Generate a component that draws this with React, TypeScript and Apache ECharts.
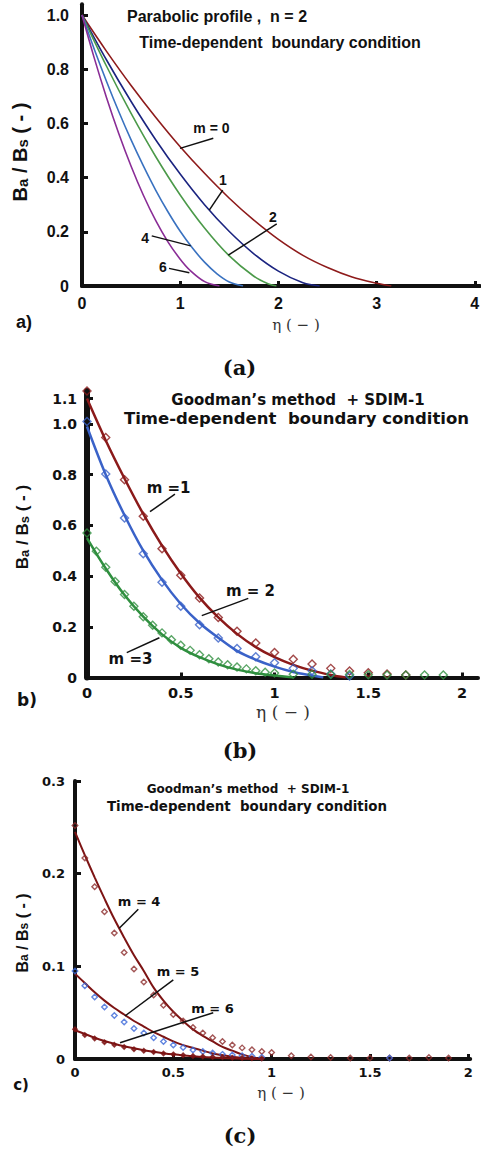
import React, { useEffect, useRef } from "react";
import * as echarts from "echarts";

// ---------- Panel (a): parabolic profile, n = 2 ----------
const A_M0_ETA = [0, 0.25, 0.5, 0.75, 1, 1.25, 1.5, 1.75, 2, 2.25, 2.5, 2.75, 3, 3.15];
const A_M0 = [1, 0.866, 0.74, 0.623, 0.514, 0.415, 0.324, 0.243, 0.172, 0.113, 0.068, 0.033, 0.01, 0];
const A_M1_ETA = [0, 0.25, 0.5, 0.75, 1, 1.25, 1.5, 1.75, 2, 2.25, 2.42];
const A_M1 = [1, 0.834, 0.681, 0.54, 0.413, 0.299, 0.201, 0.119, 0.055, 0.012, 0];
const A_M2_ETA = [0, 0.25, 0.5, 0.75, 1, 1.25, 1.5, 1.75, 1.9, 1.98];
const A_M2 = [1, 0.811, 0.637, 0.478, 0.336, 0.213, 0.111, 0.036, 0.007, 0];
const A_M4_ETA = [0, 0.125, 0.25, 0.375, 0.5, 0.625, 0.75, 0.875, 1, 1.125, 1.25, 1.375, 1.5, 1.64];
const A_M4 = [1, 0.874, 0.755, 0.643, 0.539, 0.443, 0.354, 0.274, 0.202, 0.14, 0.087, 0.045, 0.015, 0];
const A_M6_ETA = [0, 0.125, 0.25, 0.375, 0.5, 0.625, 0.75, 0.875, 1, 1.1, 1.25, 1.4];
const A_M6 = [1, 0.841, 0.695, 0.562, 0.442, 0.335, 0.242, 0.163, 0.099, 0.058, 0.016, 0];
const A_X_TICKS = [0, 1, 2, 3, 4];
const A_Y_TICKS = [0, 0.2, 0.4, 0.6, 0.8, 1.0];
const A_NOTE_TEXT = ["m = 0", "1", "2", "4", "6"];
const A_NOTE_AT = [[1.318, 0.583], [1.436, 0.391], [1.945, 0.255], [0.642, 0.177], [0.825, 0.07]];
const A_NOTE_FROM = [[0.998, 0.508], [1.296, 0.28], [1.49, 0.114], [0.71, 0.185], [0.886, 0.065]];
const A_NOTE_TO = [[1.337, 0.545], [1.433, 0.354], [1.983, 0.229], [1.107, 0.148], [1.093, 0.049]];

// ---------- Panel (b): Goodman's method + SDIM-1, m = 1..3 ----------
const B_M1_LINE_ETA = [0, 0.1, 0.2, 0.3, 0.4, 0.5, 0.6, 0.7, 0.8, 0.9, 1.0, 1.1, 1.2, 1.3, 1.38];
const B_M1_LINE = [1.1, 0.935, 0.785, 0.645, 0.52, 0.41, 0.315, 0.237, 0.172, 0.12, 0.08, 0.05, 0.027, 0.01, 0];
const B_M1_PTS_ETA = [0, 0.1, 0.2, 0.3, 0.4, 0.5, 0.6, 0.7, 0.8, 0.9, 1.0, 1.1, 1.2, 1.3, 1.4, 1.5, 1.6, 1.7];
const B_M1_PTS = [1.13, 0.947, 0.78, 0.636, 0.508, 0.403, 0.314, 0.237, 0.182, 0.136, 0.099, 0.072, 0.053, 0.036, 0.026, 0.019, 0.014, 0.01];
const B_M2_LINE_ETA = [0, 0.1, 0.2, 0.3, 0.4, 0.5, 0.6, 0.7, 0.8, 0.9, 1.0, 1.1, 1.2, 1.26];
const B_M2_LINE = [0.99, 0.8, 0.64, 0.5, 0.385, 0.29, 0.215, 0.157, 0.105, 0.07, 0.043, 0.022, 0.008, 0];
const B_M2_PTS_ETA = [0, 0.1, 0.2, 0.3, 0.4, 0.5, 0.6, 0.7, 0.8, 0.9, 1.0, 1.1, 1.2, 1.3, 1.4];
const B_M2_PTS = [1.01, 0.803, 0.629, 0.488, 0.376, 0.281, 0.208, 0.156, 0.114, 0.082, 0.058, 0.036, 0.027, 0.014, 0.006];
const B_M3_LINE_ETA = [0, 0.1, 0.2, 0.3, 0.4, 0.5, 0.6, 0.7, 0.8, 0.9, 1.0, 1.1];
const B_M3_LINE = [0.55, 0.43, 0.325, 0.24, 0.17, 0.117, 0.08, 0.052, 0.031, 0.017, 0.008, 0];
const B_M3_PTS_ETA = [0, 0.05, 0.1, 0.15, 0.2, 0.25, 0.3, 0.35, 0.4, 0.45, 0.5, 0.55, 0.6, 0.65, 0.7, 0.75, 0.8, 0.85, 0.9, 0.95, 1.0, 1.1, 1.2, 1.3, 1.4, 1.5, 1.6, 1.7, 1.8, 1.9];
const B_M3_PTS = [0.57, 0.498, 0.435, 0.379, 0.327, 0.281, 0.24, 0.206, 0.176, 0.149, 0.127, 0.107, 0.09, 0.074, 0.061, 0.05, 0.041, 0.034, 0.027, 0.021, 0.018, 0.013, 0.013, 0.012, 0.012, 0.011, 0.01, 0.01, 0.01, 0.01];
const B_X_TICKS = [0, 0.5, 1, 1.5, 2];
const B_Y_TICKS = [0, 0.2, 0.4, 0.6, 0.8, 1.0, 1.1];
const B_NOTE_TEXT = ["m =1", "m = 2", "m =3"];
const B_NOTE_AT = [[0.435, 0.746], [0.872, 0.341], [0.232, 0.073]];
const B_NOTE_FROM = [[0.336, 0.654], [0.612, 0.244], [0.212, 0.098]];
const B_NOTE_TO = [[0.469, 0.723], [0.86, 0.312], [0.386, 0.157]];

// ---------- Panel (c): Goodman's method + SDIM-1, m = 4..6 ----------
const C_LINE_ETA = [0, 0.05, 0.1, 0.15, 0.2, 0.25, 0.3, 0.35, 0.4, 0.45, 0.5, 0.55, 0.6, 0.65, 0.7, 0.75, 0.8, 0.85, 0.9, 0.95];
const C_M4_LINE = [0.245, 0.22, 0.196, 0.173, 0.151, 0.131, 0.112, 0.095, 0.077, 0.063, 0.051, 0.041, 0.032, 0.025, 0.019, 0.013, 0.009, 0.005, 0.002, 0];
const C_M5_LINE = [0.092, 0.082, 0.072, 0.063, 0.055, 0.048, 0.041, 0.035, 0.029, 0.024, 0.019, 0.015, 0.012, 0.009, 0.006, 0.004, 0.0025, 0.0012, 0.0005, 0];
const C_M6_LINE = [0.031, 0.027, 0.023, 0.0195, 0.0165, 0.0138, 0.0115, 0.0095, 0.0078, 0.0063, 0.005, 0.0039, 0.003, 0.0022, 0.0016, 0.0011, 0.0007, 0.0004, 0.0002, 0];
const C_M4_PTS_ETA = [0, 0.05, 0.1, 0.15, 0.2, 0.25, 0.3, 0.35, 0.4, 0.45, 0.5, 0.55, 0.6, 0.65, 0.7, 0.75, 0.8, 0.85, 0.9, 0.95, 1.0, 1.1, 1.2, 1.3, 1.4, 1.5, 1.6, 1.7, 1.8, 1.9];
const C_M4_PTS = [0.252, 0.217, 0.186, 0.159, 0.136, 0.115, 0.097, 0.083, 0.069, 0.058, 0.048, 0.041, 0.034, 0.028, 0.023, 0.019, 0.015, 0.012, 0.01, 0.008, 0.007, 0.0035, 0.0022, 0.0015, 0.0012, 0.001, 0.001, 0.001, 0.0015, 0.001];
const C_M5_PTS_ETA = [0, 0.05, 0.1, 0.15, 0.2, 0.25, 0.3, 0.35, 0.4, 0.45, 0.5, 0.55, 0.6, 0.65, 0.7, 0.75, 0.8, 0.85, 0.9, 0.95, 1.6];
const C_M5_PTS = [0.095, 0.079, 0.067, 0.056, 0.047, 0.04, 0.033, 0.028, 0.023, 0.019, 0.015, 0.0125, 0.0097, 0.008, 0.0065, 0.005, 0.0043, 0.0036, 0.003, 0.002, 0.001];
const C_M6_PTS_ETA = [0, 0.05, 0.1, 0.15, 0.2, 0.25, 0.3, 0.35, 0.4, 0.45, 0.5, 0.55, 0.6, 0.65, 0.7, 0.75, 0.8, 0.85, 0.9, 0.95];
const C_M6_PTS = [0.032, 0.026, 0.022, 0.018, 0.0155, 0.013, 0.0105, 0.009, 0.0075, 0.006, 0.005, 0.004, 0.0033, 0.0027, 0.0022, 0.0018, 0.0014, 0.0011, 0.0008, 0.0006];
const C_X_TICKS = [0, 0.5, 1, 1.5, 2];
const C_Y_TICKS = [0, 0.1, 0.2, 0.3];
const C_NOTE_TEXT = ["m = 4", "m = 5", "m = 6"];
const C_NOTE_AT = [[0.326, 0.17], [0.524, 0.0942], [0.699, 0.0547]];
const C_NOTE_FROM = [[0.225, 0.141], [0.254, 0.0464], [0.229, 0.0176]];
const C_NOTE_TO = [[0.322, 0.1615], [0.5, 0.0853], [0.703, 0.05]];

const SANS_A = "'Liberation Sans', Arial, sans-serif";
const SANS_B = "'DejaVu Sans', sans-serif";
const SERIF = "'DejaVu Serif', serif";
const INK = "#111";

const pairs = (xs: number[], ys: number[]) => xs.map((x, i) => [x, ys[i]]);

function xAxisDef(gi: number, max: number, ticks: number[], font: string, size: number, margin: number, width: number) {
  return {
    gridIndex: gi, type: "value", min: 0, max,
    axisLine: { show: true, onZero: false, lineStyle: { color: INK, width } },
    axisTick: { show: true, inside: true, length: 5, customValues: ticks, lineStyle: { color: INK, width: 3 } },
    axisLabel: {
      customValues: ticks, margin, color: INK, fontFamily: font, fontWeight: "bold", fontSize: size,
      formatter: (v: number) => String(Math.round(v * 10) / 10),
    },
    splitLine: { show: false },
  };
}

function yAxisDef(gi: number, max: number, ticks: number[], font: string, size: number, margin: number, width: number) {
  return {
    gridIndex: gi, type: "value", min: 0, max,
    axisLine: { show: true, onZero: false, lineStyle: { color: INK, width } },
    axisTick: { show: true, inside: true, length: 6, customValues: ticks, lineStyle: { color: INK, width: 3 } },
    axisLabel: {
      customValues: ticks, margin, color: INK, fontFamily: font, fontWeight: "bold", fontSize: size,
      formatter: (v: number) => (Math.abs(v) < 1e-9 ? "0" : v.toFixed(1)),
    },
    splitLine: { show: false },
  };
}

function lineSeries(gi: number, xs: number[], ys: number[], color: string, width: number) {
  return {
    type: "line", xAxisIndex: gi, yAxisIndex: gi, data: pairs(xs, ys),
    showSymbol: false, smooth: 0.35,
    lineStyle: { color, width }, itemStyle: { color }, z: 3,
  };
}

function markerSeries(gi: number, xs: number[], ys: number[], color: string, size: number, filled: boolean) {
  return {
    type: "scatter", xAxisIndex: gi, yAxisIndex: gi, data: pairs(xs, ys),
    symbol: "diamond", symbolSize: size,
    itemStyle: { color: filled ? color : "rgba(255,255,255,0)", borderColor: color, borderWidth: 1.4 },
    z: 4,
  };
}

export default function App() {
  const ref = useRef<HTMLDivElement>(null);

  useEffect(() => {
    if (!ref.current) return;
    const chart = echarts.init(ref.current, undefined, { renderer: "svg" });

    const option: any = {
      animation: false,
      backgroundColor: "#fff",
      grid: [
        { left: 82, top: 4.2, width: 397.7, height: 281.8, containLabel: false, outerBoundsMode: "none" },
        { left: 87, top: 391, width: 391, height: 286.5, containLabel: false, outerBoundsMode: "none" },
        { left: 75, top: 781, width: 395.2, height: 278, containLabel: false, outerBoundsMode: "none" },
      ],
      xAxis: [
        xAxisDef(0, 4.05, A_X_TICKS, SANS_A, 16, 9, 4),
        xAxisDef(1, 2.085, B_X_TICKS, SANS_B, 14.5, 8, 4),
        xAxisDef(2, 2.01, C_X_TICKS, SANS_B, 13, 7, 4),
      ],
      yAxis: [
        yAxisDef(0, 1.04, A_Y_TICKS, SANS_A, 16, 13, 4),
        yAxisDef(1, 1.13, B_Y_TICKS, SANS_B, 14, 10, 6),
        yAxisDef(2, 0.3, C_Y_TICKS, SANS_B, 13, 10, 4),
      ],
      series: [
        lineSeries(0, A_M0_ETA, A_M0, "#8e1b1b", 1.6),
        lineSeries(0, A_M1_ETA, A_M1, "#1b2480", 1.6),
        lineSeries(0, A_M2_ETA, A_M2, "#4c9a4a", 1.6),
        lineSeries(0, A_M4_ETA, A_M4, "#3a72c0", 1.6),
        lineSeries(0, A_M6_ETA, A_M6, "#8a2d96", 1.6),

        lineSeries(1, B_M1_LINE_ETA, B_M1_LINE, "#8b1a1a", 2.5),
        lineSeries(1, B_M2_LINE_ETA, B_M2_LINE, "#3a62c8", 2.5),
        lineSeries(1, B_M3_LINE_ETA, B_M3_LINE, "#2f8f3f", 2.5),
        markerSeries(1, B_M1_PTS_ETA, B_M1_PTS, "#8b1a1a", 8, false),
        markerSeries(1, B_M2_PTS_ETA, B_M2_PTS, "#3a62c8", 8, false),
        markerSeries(1, B_M3_PTS_ETA, B_M3_PTS, "#2f8f3f", 8, false),

        lineSeries(2, C_LINE_ETA, C_M4_LINE, "#7d1414", 2),
        lineSeries(2, C_LINE_ETA, C_M5_LINE, "#7d1414", 2),
        lineSeries(2, C_LINE_ETA, C_M6_LINE, "#7d1414", 2),
        markerSeries(2, C_M4_PTS_ETA, C_M4_PTS, "#8b2a2a", 5.5, false),
        markerSeries(2, C_M5_PTS_ETA, C_M5_PTS, "#3a66d8", 5.5, false),
        markerSeries(2, C_M6_PTS_ETA, C_M6_PTS, "#7d1414", 4.5, true),
      ],
    };
    chart.setOption(option);

    const els: any[] = [];
    const text = (x: number, y: number, t: string, font: string, size: number, weight = "bold", fill = INK, rot = 0, rich?: any) => {
      els.push({
        type: "text", x, y, rotation: rot, z: 10,
        style: { text: t, fontFamily: font, fontSize: size, fontWeight: weight, fill, align: "center", verticalAlign: "middle", rich },
      });
    };

    const notes = (gi: number, txt: string[], at: number[][], from: number[][], to: number[][], font: string, size: number) => {
      txt.forEach((t, i) => {
        const p = chart.convertToPixel({ gridIndex: gi }, at[i]) as number[];
        const a = chart.convertToPixel({ gridIndex: gi }, from[i]) as number[];
        const b = chart.convertToPixel({ gridIndex: gi }, to[i]) as number[];
        els.push({ type: "line", z: 9, shape: { x1: a[0], y1: a[1], x2: b[0], y2: b[1] }, style: { stroke: INK, lineWidth: 1.5 } });
        text(p[0], p[1], t, font, size);
      });
    };
    notes(0, A_NOTE_TEXT, A_NOTE_AT, A_NOTE_FROM, A_NOTE_TO, SANS_A, 14);
    notes(1, B_NOTE_TEXT, B_NOTE_AT, B_NOTE_FROM, B_NOTE_TO, SANS_B, 15);
    notes(2, C_NOTE_TEXT, C_NOTE_AT, C_NOTE_FROM, C_NOTE_TO, SANS_B, 13);

    // titles
    text(217, 16, "Parabolic profile ,  n = 2", SANS_A, 16);
    text(280, 42, "Time-dependent  boundary condition", SANS_A, 16);
    text(298, 400, "Goodman\u2019s method  + SDIM-1", SANS_B, 15);
    text(296.5, 418, "Time-dependent  boundary condition", SANS_B, 16.5);
    text(248, 789, "Goodman\u2019s method  + SDIM-1", SANS_B, 12);
    text(247, 806, "Time-dependent  boundary condition", SANS_B, 13.4);

    // y-axis names (rotated) with subscripts
    const yName = (x: number, y: number, size: number, sub: number) =>
      text(x, y, "B{s|a} / B{s|s} ( - )", SANS_A, size, "bold", INK, Math.PI / 2, {
        s: { fontSize: sub, fontFamily: SANS_A, fontWeight: "bold", fill: INK, lineHeight: sub, verticalAlign: "bottom" },
      });
    yName(20, 152, 20, 15);
    yName(22, 527, 17, 13);
    yName(22, 933, 16, 12);

    // x-axis names
    text(296, 325, "\u03b7 ( \u2212 )", SERIF, 15, "normal", "#333");
    text(283, 712, "\u03b7 ( \u2212 )", SERIF, 17, "normal", "#333");
    text(281, 1093, "\u03b7 ( \u2212 )", SERIF, 15, "normal", "#333");

    // panel letters
    text(24, 322, "a)", SANS_A, 18);
    text(27, 700, "b)", SANS_B, 17);
    text(21, 1085, "c)", SANS_B, 15);

    // captions
    text(239.5, 367, "(a)", SERIF, 21);
    text(240, 750, "(b)", SERIF, 21);
    text(240, 1135, "(c)", SERIF, 21);

    chart.setOption({ graphic: { elements: els } });

    return () => chart.dispose();
  }, []);

  return (
    <div
      ref={ref}
      style={{ position: "absolute", left: 0, top: 0, width: 481, height: 1153, background: "#fff" }}
    />
  );
}
